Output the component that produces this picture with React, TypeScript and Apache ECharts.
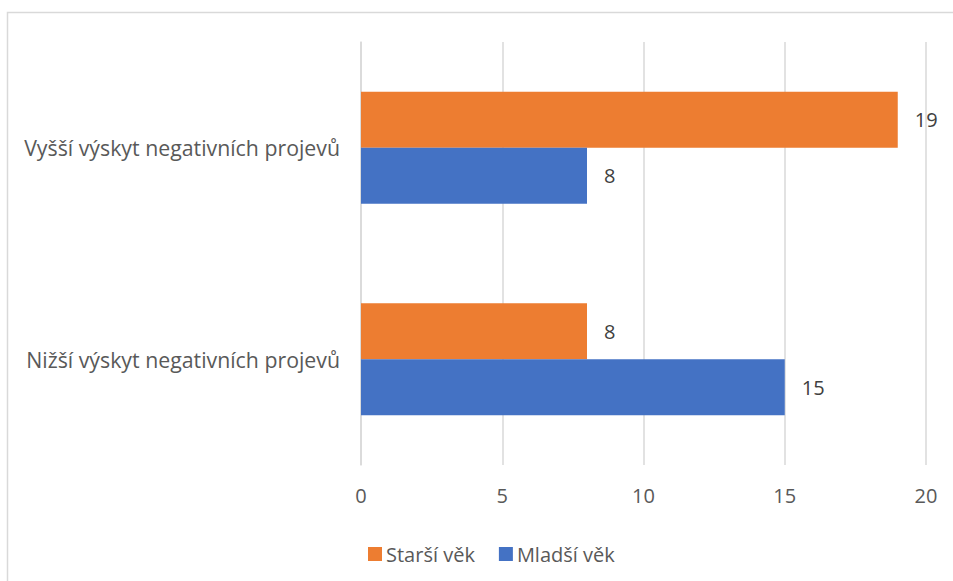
import React, { useEffect, useRef } from "react";
import * as echarts from "echarts";

const categories = ["Nižší výskyt negativních projevů", "Vyšší výskyt negativních projevů"];
const seriesNames = ["Starší věk", "Mladší věk"];
const starsiVek = [8, 19];
const mladsiVek = [15, 8];
const xTicks = { min: 0, max: 20, interval: 5 };

const FONT = "Open Sans";

export default function App() {
  const ref = useRef<HTMLDivElement>(null);
  useEffect(() => {
    if (!ref.current) return;
    const chart = echarts.init(ref.current, undefined, { renderer: "svg" });
    const labelStyle = {
      show: true,
      position: "right" as const,
      distance: 17,
      color: "#404040",
      fontSize: 20,
      fontFamily: FONT,
    };
    chart.setOption({
      animation: false,
      backgroundColor: "#ffffff",
      graphic: [
        {
          type: "rect",
          shape: { x: 7.5, y: 12.5, width: 980, height: 620 },
          style: { fill: "none", stroke: "#d9d9d9", lineWidth: 1.5 },
          silent: true,
        },
      ],
      grid: { left: 361, right: 27, top: 42, bottom: 116, containLabel: false },
      legend: {
        data: seriesNames,
        left: 363,
        top: 539,
        itemWidth: 14,
        itemHeight: 14,
        itemGap: 24,
        icon: "rect",
        textStyle: { color: "#595959", fontSize: 20, fontFamily: FONT, padding: [0, 0, 0, -1] },
      },
      xAxis: {
        type: "value",
        min: xTicks.min,
        max: xTicks.max,
        interval: xTicks.interval,
        axisLine: { show: false },
        axisTick: { show: false },
        splitLine: { show: true, lineStyle: { color: "#d9d9d9", width: 1.5 } },
        axisLabel: { color: "#595959", fontSize: 20, fontFamily: FONT, margin: 20 },
      },
      yAxis: {
        type: "category",
        data: categories,
        axisLine: { show: true, lineStyle: { color: "#d9d9d9", width: 1.5 } },
        axisTick: { show: false },
        axisLabel: { color: "#595959", fontSize: 21.3, fontFamily: FONT, margin: 21 },
      },
      series: [
        {
          name: seriesNames[0],
          type: "bar",
          data: starsiVek,
          barWidth: 56,
          barGap: "0%",
          itemStyle: { color: "#ED7D31" },
          label: labelStyle,
        },
        {
          name: seriesNames[1],
          type: "bar",
          data: mladsiVek,
          barWidth: 56,
          barGap: "0%",
          itemStyle: { color: "#4472C4" },
          label: labelStyle,
        },
      ],
    });
    return () => chart.dispose();
  }, []);
  return <div ref={ref} style={{ width: 953, height: 581, position: "absolute", left: 0, top: 0 }} />;
}
